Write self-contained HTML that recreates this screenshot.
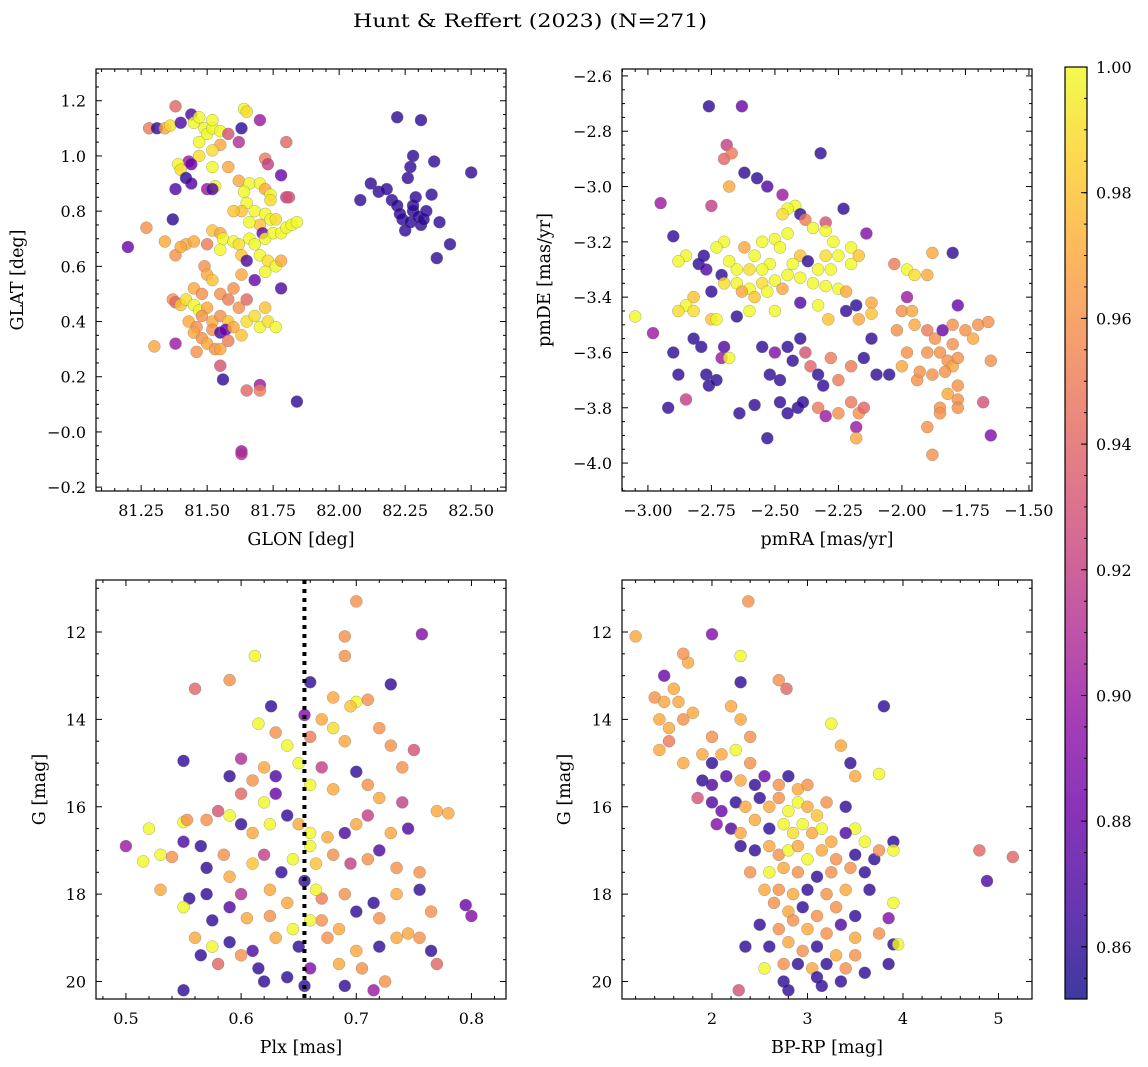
<!DOCTYPE html>
<html><head><meta charset="utf-8">
<style>
html,body{margin:0;padding:0;background:#fff;}
svg{display:block;font-family:"DejaVu Serif","Liberation Serif",serif;}
</style></head>
<body>
<svg id="fig" width="1148" height="1067" viewBox="0 0 1148 1067" xmlns="http://www.w3.org/2000/svg">
<defs>
<linearGradient id="plasmaGrad" x1="0" y1="1" x2="0" y2="0">
<stop offset="0" stop-color="#0d0887"/><stop offset="0.1" stop-color="#41049d"/><stop offset="0.2" stop-color="#6a00a8"/><stop offset="0.3" stop-color="#8f0da4"/><stop offset="0.4" stop-color="#b12a90"/><stop offset="0.5" stop-color="#cc4778"/><stop offset="0.6" stop-color="#e16462"/><stop offset="0.7" stop-color="#f2844b"/><stop offset="0.8" stop-color="#fca636"/><stop offset="0.9" stop-color="#fcce25"/><stop offset="1" stop-color="#f0f921"/>
</linearGradient>
</defs>
<text x="530" y="27" font-size="19" text-anchor="middle" textLength="354" lengthAdjust="spacingAndGlyphs">Hunt &amp; Reffert (2023) (N=271)</text>
</svg>
<script>
// ---- data ----
const glonGlat = [[81.28,1.10,0.95],[81.31,1.10,0.86],[81.34,1.10,0.97],[81.36,1.11,0.99],[81.38,1.18,0.94],[81.40,1.12,0.87],[81.44,1.15,0.87],[81.45,1.12,1.0],[81.47,1.14,1.0],[81.49,1.10,1.0],[81.50,1.08,1.0],[81.52,1.10,1.0],[81.47,1.05,1.0],[81.52,1.13,1.0],[81.55,1.09,1.0],[81.58,1.08,0.93],[81.55,1.04,0.97],[81.52,1.02,0.99],[81.47,1.0,0.99],[81.43,0.98,0.90],[81.44,0.97,0.88],[81.39,0.97,1.0],[81.40,0.95,0.99],[81.52,0.96,1.0],[81.58,0.96,0.97],[81.64,1.17,1.0],[81.65,1.16,0.99],[81.70,1.13,0.90],[81.63,1.10,0.86],[81.62,1.05,0.91],[81.72,0.99,0.95],[81.73,0.97,0.92],[81.80,1.05,0.94],[81.78,0.93,0.88],[81.42,0.92,0.86],[81.44,0.90,0.87],[81.38,0.88,0.87],[81.50,0.88,0.90],[81.53,0.89,1.0],[81.52,0.88,0.87],[81.62,0.91,0.97],[81.66,0.90,1.0],[81.70,0.90,1.0],[81.64,0.87,1.0],[81.72,0.88,0.97],[81.74,0.86,1.0],[81.74,0.84,0.99],[81.80,0.85,0.92],[81.81,0.85,0.93],[81.65,0.83,1.0],[81.68,0.80,1.0],[81.63,0.80,0.98],[81.60,0.80,0.98],[81.72,0.79,1.0],[81.74,0.77,1.0],[81.76,0.77,0.99],[81.70,0.75,0.98],[81.66,0.76,1.0],[81.37,0.77,0.86],[81.52,0.73,0.98],[81.55,0.72,0.97],[81.56,0.70,1.0],[81.60,0.69,1.0],[81.62,0.68,0.99],[81.66,0.70,1.0],[81.68,0.68,1.0],[81.71,0.72,0.88],[81.72,0.70,1.0],[81.75,0.72,1.0],[81.78,0.72,1.0],[81.80,0.74,1.0],[81.82,0.75,1.0],[81.84,0.76,1.0],[81.34,0.69,0.97],[81.38,0.64,0.96],[81.42,0.68,0.97],[81.40,0.67,0.97],[81.45,0.69,0.97],[81.50,0.68,0.95],[81.55,0.66,1.0],[81.63,0.64,0.98],[81.65,0.62,0.87],[81.70,0.64,1.0],[81.73,0.62,0.99],[81.76,0.60,1.0],[81.78,0.62,0.97],[81.72,0.58,1.0],[81.68,0.55,0.88],[81.78,0.52,0.87],[81.63,0.57,0.97],[81.60,0.52,0.96],[81.49,0.60,0.96],[81.50,0.57,0.97],[81.52,0.55,0.98],[81.45,0.52,0.97],[81.48,0.50,0.96],[81.55,0.50,0.96],[81.58,0.48,0.95],[81.62,0.45,0.96],[81.65,0.48,0.94],[81.37,0.48,0.96],[81.38,0.47,0.94],[81.40,0.46,0.98],[81.42,0.48,0.99],[81.45,0.46,1.0],[81.47,0.44,1.0],[81.50,0.45,0.97],[81.43,0.40,0.97],[81.46,0.38,0.96],[81.48,0.42,0.96],[81.52,0.40,0.97],[81.55,0.42,0.96],[81.58,0.40,0.98],[81.52,0.37,0.96],[81.55,0.36,0.87],[81.57,0.37,0.88],[81.60,0.38,0.97],[81.45,0.36,0.97],[81.48,0.34,0.96],[81.50,0.32,0.97],[81.53,0.30,0.96],[81.55,0.30,0.97],[81.46,0.29,0.96],[81.38,0.32,0.90],[81.30,0.31,0.97],[81.58,0.33,0.95],[81.63,0.35,0.98],[81.65,0.40,0.99],[81.70,0.38,1.0],[81.73,0.40,0.99],[81.76,0.38,1.0],[81.68,0.42,0.99],[81.72,0.45,0.98],[81.55,0.24,0.93],[81.56,0.19,0.86],[81.65,0.15,0.94],[81.70,0.17,0.90],[81.70,0.15,0.95],[81.84,0.11,0.86],[81.63,-0.07,0.90],[81.63,-0.08,0.91],[81.20,0.67,0.88],[81.27,0.74,0.96],[82.08,0.84,0.86],[82.12,0.90,0.86],[82.15,0.87,0.86],[82.18,0.88,0.86],[82.20,0.84,0.86],[82.22,0.82,0.86],[82.24,0.77,0.86],[82.25,0.73,0.86],[82.27,0.76,0.86],[82.28,0.80,0.86],[82.28,0.82,0.86],[82.29,0.85,0.86],[82.30,0.78,0.86],[82.31,0.75,0.86],[82.32,0.77,0.86],[82.33,0.80,0.86],[82.26,0.92,0.86],[82.27,0.96,0.86],[82.28,1.00,0.86],[82.22,1.14,0.86],[82.31,1.13,0.86],[82.36,0.98,0.86],[82.35,0.86,0.86],[82.38,0.76,0.86],[82.42,0.68,0.86],[82.37,0.63,0.86],[82.50,0.94,0.86],[82.23,0.79,0.86]];
const pmraPmde = [[-2.76,-2.71,0.86],[-2.63,-2.71,0.88],[-2.69,-2.85,0.92],[-2.70,-2.90,0.94],[-2.67,-2.88,0.95],[-2.32,-2.88,0.86],[-2.68,-3.0,0.97],[-2.95,-3.06,0.90],[-2.75,-3.07,0.92],[-2.62,-2.95,0.86],[-2.57,-2.97,0.86],[-2.53,-3.0,0.87],[-2.47,-3.03,0.90],[-2.42,-3.07,1.0],[-2.45,-3.08,1.0],[-2.47,-3.10,0.99],[-2.40,-3.10,0.86],[-2.38,-3.12,0.95],[-2.30,-3.13,0.93],[-2.23,-3.08,0.86],[-2.14,-3.17,0.89],[-2.35,-3.15,1.0],[-2.30,-3.16,1.0],[-2.27,-3.20,1.0],[-2.45,-3.17,1.0],[-2.50,-3.19,1.0],[-2.55,-3.20,1.0],[-2.48,-3.22,1.0],[-2.70,-3.20,1.0],[-2.73,-3.22,1.0],[-2.62,-3.22,0.97],[-2.58,-3.25,1.0],[-2.20,-3.22,1.0],[-2.25,-3.25,1.0],[-2.30,-3.25,0.99],[-2.40,-3.25,0.98],[-2.43,-3.28,1.0],[-2.37,-3.27,0.86],[-2.33,-3.30,1.0],[-2.28,-3.30,1.0],[-2.20,-3.28,1.0],[-2.17,-3.25,0.98],[-2.52,-3.28,1.0],[-2.55,-3.30,1.0],[-2.60,-3.30,0.99],[-2.65,-3.30,1.0],[-2.68,-3.27,1.0],[-2.78,-3.25,0.86],[-2.80,-3.28,0.86],[-2.85,-3.25,1.0],[-2.88,-3.27,1.0],[-2.90,-3.18,0.86],[-2.77,-3.30,0.87],[-2.71,-3.32,0.86],[-2.65,-3.35,1.0],[-2.60,-3.37,1.0],[-2.55,-3.35,0.99],[-2.50,-3.34,1.0],[-2.45,-3.32,1.0],[-2.40,-3.33,1.0],[-2.35,-3.35,1.0],[-2.30,-3.36,1.0],[-2.25,-3.37,1.0],[-2.22,-3.38,0.97],[-2.47,-3.37,0.97],[-2.53,-3.38,1.0],[-2.58,-3.40,0.98],[-2.63,-3.38,0.97],[-2.70,-3.35,0.99],[-2.75,-3.38,0.86],[-2.82,-3.40,0.98],[-2.85,-3.43,1.0],[-2.82,-3.45,0.99],[-2.88,-3.45,0.99],[-2.75,-3.48,0.98],[-2.73,-3.48,1.0],[-2.65,-3.47,0.86],[-2.60,-3.45,1.0],[-2.50,-3.45,1.0],[-2.40,-3.42,0.87],[-2.33,-3.43,1.0],[-2.29,-3.48,0.98],[-2.22,-3.45,0.86],[-2.18,-3.43,0.86],[-3.05,-3.47,1.0],[-2.98,-3.53,0.90],[-2.90,-3.60,0.86],[-2.88,-3.68,0.86],[-2.82,-3.55,0.86],[-2.79,-3.58,0.86],[-2.77,-3.68,0.86],[-2.76,-3.72,0.86],[-2.73,-3.70,0.86],[-2.71,-3.62,0.90],[-2.70,-3.58,0.87],[-2.68,-3.62,1.0],[-2.64,-3.82,0.86],[-2.55,-3.58,0.86],[-2.52,-3.68,0.86],[-2.50,-3.60,0.89],[-2.48,-3.70,0.86],[-2.45,-3.58,0.86],[-2.43,-3.63,0.86],[-2.40,-3.55,0.86],[-2.38,-3.60,0.93],[-2.36,-3.65,0.94],[-2.33,-3.68,0.86],[-2.31,-3.72,0.86],[-2.28,-3.62,0.95],[-2.25,-3.70,0.95],[-2.20,-3.65,0.95],[-2.15,-3.62,0.86],[-2.12,-3.55,0.86],[-2.10,-3.68,0.86],[-2.05,-3.68,0.86],[-2.48,-3.78,0.86],[-2.45,-3.82,0.86],[-2.41,-3.80,0.86],[-2.39,-3.78,0.86],[-2.33,-3.80,0.95],[-2.30,-3.83,0.90],[-2.25,-3.82,0.96],[-2.20,-3.78,0.95],[-2.17,-3.82,0.96],[-2.15,-3.80,0.94],[-2.18,-3.87,0.90],[-2.18,-3.91,0.97],[-2.53,-3.91,0.86],[-2.58,-3.79,0.86],[-2.85,-3.77,0.92],[-2.92,-3.80,0.86],[-2.17,-3.48,0.97],[-2.12,-3.42,0.97],[-2.12,-3.46,0.98],[-2.03,-3.28,0.95],[-1.98,-3.30,1.0],[-1.95,-3.32,0.99],[-1.90,-3.32,0.97],[-1.88,-3.24,0.97],[-1.80,-3.24,0.86],[-1.98,-3.40,0.90],[-2.00,-3.45,0.96],[-1.96,-3.45,0.97],[-2.02,-3.52,0.96],[-1.95,-3.50,0.97],[-1.90,-3.52,0.95],[-1.87,-3.55,0.96],[-1.84,-3.52,0.88],[-1.78,-3.43,0.88],[-1.80,-3.50,0.96],[-1.75,-3.52,0.96],[-1.70,-3.50,0.96],[-1.66,-3.49,0.96],[-1.72,-3.55,0.97],[-1.80,-3.57,0.96],[-1.85,-3.60,0.96],[-1.90,-3.60,0.96],[-1.82,-3.63,0.96],[-1.80,-3.65,0.97],[-1.78,-3.62,0.96],[-1.65,-3.63,0.96],[-1.98,-3.60,0.96],[-2.00,-3.65,0.97],[-1.94,-3.70,0.96],[-1.88,-3.68,0.96],[-1.93,-3.67,0.96],[-1.83,-3.67,0.96],[-1.78,-3.72,0.96],[-1.82,-3.75,0.97],[-1.78,-3.77,0.96],[-1.85,-3.80,0.96],[-1.85,-3.82,0.96],[-1.78,-3.80,0.96],[-1.90,-3.87,0.96],[-1.88,-3.97,0.96],[-1.68,-3.78,0.93],[-1.65,-3.90,0.89]];
const plxG = [[0.70,11.3,0.96],[0.757,12.05,0.89],[0.69,12.1,0.96],[0.612,12.55,1.0],[0.69,12.55,0.96],[0.66,13.15,0.86],[0.56,13.3,0.94],[0.59,13.1,0.96],[0.73,13.2,0.86],[0.626,13.7,0.86],[0.68,13.5,0.97],[0.70,13.6,1.0],[0.695,13.7,0.98],[0.71,13.55,0.96],[0.655,13.9,0.89],[0.615,14.1,1.0],[0.63,14.3,0.96],[0.67,14.0,0.97],[0.68,14.2,0.99],[0.66,14.4,0.95],[0.72,14.2,0.96],[0.75,14.7,0.93],[0.69,14.5,0.97],[0.73,14.6,0.96],[0.64,14.6,1.0],[0.60,14.9,0.91],[0.55,14.95,0.86],[0.62,15.1,0.97],[0.63,15.3,0.87],[0.65,15.0,1.0],[0.67,15.1,0.92],[0.70,15.2,0.86],[0.74,15.1,0.96],[0.61,15.4,0.96],[0.59,15.3,0.86],[0.66,15.5,1.0],[0.68,15.6,0.97],[0.71,15.5,0.96],[0.72,15.8,0.97],[0.74,15.9,0.92],[0.77,16.1,0.97],[0.78,16.15,0.97],[0.63,15.7,0.88],[0.62,15.9,1.0],[0.60,15.7,0.94],[0.58,16.1,0.93],[0.59,16.2,1.0],[0.57,16.3,0.96],[0.55,16.35,1.0],[0.553,16.3,0.96],[0.60,16.4,0.86],[0.61,16.6,0.97],[0.625,16.4,1.0],[0.64,16.2,0.86],[0.65,16.4,0.97],[0.66,16.6,1.0],[0.675,16.7,0.97],[0.69,16.6,0.87],[0.70,16.4,0.97],[0.71,16.2,0.92],[0.73,16.6,0.97],[0.745,16.5,0.87],[0.52,16.5,1.0],[0.50,16.9,0.90],[0.515,17.25,1.0],[0.53,17.1,1.0],[0.54,17.15,0.96],[0.55,16.8,0.87],[0.565,16.9,0.86],[0.57,17.4,0.86],[0.585,17.1,0.96],[0.59,17.6,0.97],[0.61,17.3,0.98],[0.62,17.1,0.92],[0.635,17.5,0.86],[0.645,17.2,1.0],[0.665,17.3,0.98],[0.68,17.1,0.96],[0.695,17.3,0.92],[0.71,17.2,0.96],[0.72,17.0,0.87],[0.735,17.4,0.96],[0.755,17.5,0.96],[0.53,17.9,0.97],[0.555,18.1,0.86],[0.57,18.0,0.86],[0.60,18.0,0.91],[0.625,17.9,0.97],[0.64,18.2,0.97],[0.67,18.1,0.95],[0.69,18.0,0.96],[0.715,18.2,0.86],[0.735,18.0,0.97],[0.755,17.9,0.86],[0.55,18.3,1.0],[0.575,18.6,0.86],[0.59,18.3,0.87],[0.605,18.55,0.97],[0.625,18.5,0.96],[0.645,18.8,1.0],[0.67,18.6,0.96],[0.685,18.8,0.97],[0.70,18.4,0.86],[0.72,18.55,0.96],[0.745,18.9,0.97],[0.765,18.4,0.96],[0.795,18.25,0.88],[0.80,18.5,0.89],[0.56,19.0,0.97],[0.575,19.2,1.0],[0.59,19.1,0.86],[0.61,19.3,0.87],[0.63,19.0,0.97],[0.65,19.2,0.86],[0.675,19.0,0.96],[0.70,19.3,0.97],[0.72,19.2,0.86],[0.735,19.0,0.97],[0.755,19.0,0.96],[0.765,19.3,0.86],[0.77,19.6,0.94],[0.565,19.4,0.86],[0.58,19.6,0.94],[0.60,19.4,0.96],[0.615,19.7,0.86],[0.64,19.9,0.86],[0.66,19.7,0.89],[0.685,19.6,0.97],[0.705,19.7,0.96],[0.725,20.0,0.96],[0.62,20.0,0.86],[0.655,20.1,0.86],[0.69,20.1,0.86],[0.715,20.2,0.90],[0.55,20.2,0.86],[0.66,16.9,1.0],[0.655,17.7,0.86],[0.66,18.6,1.0],[0.665,17.9,1.0]];
const bprpG = [[1.2,12.1,0.97],[2.0,12.05,0.89],[2.38,11.3,0.96],[2.3,12.55,1.0],[1.5,13.0,0.88],[1.6,13.3,0.97],[2.7,13.1,0.96],[2.78,13.3,0.94],[2.3,13.15,0.86],[1.4,13.5,0.96],[1.5,13.6,0.97],[1.65,13.6,0.97],[1.75,12.7,0.97],[1.7,12.5,0.96],[3.8,13.7,0.86],[1.45,14.0,0.97],[1.55,14.2,0.97],[1.7,14.0,0.96],[1.8,13.85,0.97],[2.2,13.7,0.97],[2.3,14.0,0.97],[2.4,14.4,0.96],[2.0,14.4,0.96],[3.25,14.1,1.0],[3.35,14.6,0.97],[1.45,14.7,0.97],[1.55,14.5,0.95],[1.7,15.0,0.97],[1.9,14.8,0.97],[2.0,15.0,0.86],[2.1,14.8,0.97],[2.25,14.7,1.0],[2.4,15.0,0.96],[3.45,15.0,0.86],[3.5,15.3,0.97],[3.75,15.25,1.0],[1.9,15.4,0.86],[2.0,15.5,0.87],[2.15,15.3,0.87],[2.3,15.4,0.97],[2.45,15.5,0.86],[2.55,15.3,0.88],[2.7,15.5,0.96],[2.8,15.3,0.86],[2.9,15.6,0.97],[3.0,15.5,0.96],[1.85,15.8,0.93],[2.0,15.9,0.87],[2.1,16.1,0.88],[2.25,15.9,0.86],[2.35,16.0,0.97],[2.5,15.8,0.86],[2.6,16.0,0.97],[2.7,15.8,0.96],[2.8,16.1,1.0],[2.9,15.9,1.0],[3.0,16.0,0.97],[3.1,16.2,0.98],[3.2,15.9,0.96],[3.4,16.0,0.86],[3.5,16.5,1.0],[2.05,16.4,0.89],[2.2,16.5,0.87],[2.3,16.6,0.97],[2.45,16.3,0.97],[2.6,16.5,0.86],[2.75,16.4,1.0],[2.85,16.6,0.99],[2.95,16.4,1.0],[3.05,16.6,0.97],[3.15,16.5,1.0],[3.25,16.8,0.97],[3.4,16.6,0.87],[3.6,16.8,1.0],[3.9,16.8,0.86],[2.3,16.9,0.86],[2.45,17.0,0.86],[2.6,16.9,0.97],[2.7,17.1,0.96],[2.8,17.0,1.0],[2.9,16.9,0.97],[3.0,17.2,1.0],[3.15,17.0,0.97],[3.3,17.2,0.96],[3.5,17.1,0.86],[3.7,17.2,0.86],[3.75,17.0,0.96],[3.9,17.0,1.0],[4.8,17.0,0.94],[5.15,17.15,0.94],[2.4,17.5,0.96],[2.6,17.5,1.0],[2.75,17.4,0.97],[2.9,17.5,0.96],[3.1,17.6,0.86],[3.25,17.5,0.96],[3.45,17.4,0.96],[3.6,17.5,0.86],[2.55,17.9,0.97],[2.7,17.9,0.96],[2.85,18.0,0.97],[3.0,17.9,0.86],[3.2,18.0,0.96],[3.4,17.9,0.97],[3.65,17.9,0.86],[3.9,18.2,1.0],[4.88,17.7,0.87],[2.65,18.2,0.96],[2.8,18.4,0.97],[2.95,18.3,0.86],[3.1,18.5,0.96],[3.3,18.3,0.96],[3.5,18.5,0.86],[3.85,18.55,0.89],[2.5,18.7,0.86],[2.7,18.8,0.96],[2.85,18.6,0.96],[3.0,18.8,0.97],[3.2,18.9,0.96],[3.35,18.7,0.87],[3.5,19.0,0.97],[3.75,18.9,0.96],[2.35,19.2,0.86],[2.6,19.2,0.86],[2.8,19.1,0.97],[2.95,19.3,0.96],[3.1,19.2,0.86],[3.3,19.4,0.97],[3.5,19.4,0.96],[3.9,19.15,0.86],[3.95,19.15,1.0],[2.55,19.7,1.0],[2.75,19.6,0.96],[2.9,19.6,0.86],[3.05,19.7,0.97],[3.2,19.6,0.86],[3.4,19.7,0.96],[3.6,19.8,0.86],[3.85,19.6,0.86],[2.28,20.2,0.93],[2.75,20.0,0.86],[2.8,20.2,0.86],[3.1,19.9,0.86],[3.15,20.1,0.86],[3.35,20.0,0.86]];
const colorTicks = [0.86,0.88,0.90,0.92,0.94,0.96,0.98,1.00];
const cMin = 0.8517, cMax = 1.0;
const plxLine = 0.655;

// ---- helpers ----
const NS = "http://www.w3.org/2000/svg";
const svg = document.getElementById('fig');
function mk(tag, attrs, parent){ const e=document.createElementNS(NS,tag); for(const k in attrs) e.setAttribute(k,attrs[k]); (parent||svg).appendChild(e); return e; }
const stops=[[0,13,8,135],[0.1,65,4,157],[0.2,106,0,168],[0.3,143,13,164],[0.4,177,42,144],[0.5,204,71,120],[0.6,225,100,98],[0.7,242,132,75],[0.8,252,166,54],[0.9,252,206,37],[1,240,249,33]];
function plasma(c){ let t=(c-cMin)/(cMax-cMin); t=Math.max(0,Math.min(1,t));
  for(let i=0;i<stops.length-1;i++){ const a=stops[i],b=stops[i+1]; if(t<=b[0]){ const f=(t-a[0])/(b[0]-a[0]); return `rgb(${Math.round(a[1]+f*(b[1]-a[1]))},${Math.round(a[2]+f*(b[2]-a[2]))},${Math.round(a[3]+f*(b[3]-a[3]))})`; } }
  return 'rgb(240,249,33)'; }
const TICK_FS = 16, LABEL_FS = 17.5;

function panel(cfg){
  const {name,L,R,T,B,xmin,xmax,ymin,ymax,invertY,xMaj,xMin,yMaj,yMin,xFmt,yFmt,xLabel,yLabel,yLabelX,data} = cfg;
  const g = mk('g',{});
  
  
  const sx = v => L + (v - xmin)/(xmax - xmin)*(R-L);
  const sy = v => invertY ? T + (v - ymin)/(ymax - ymin)*(B-T) : B - (v - ymin)/(ymax - ymin)*(B-T);
  const clip = mk('clipPath',{id:'clip-'+name},g); mk('rect',{x:L,y:T,width:R-L,height:B-T},clip);
  const pts = mk('g',{'clip-path':`url(#clip-${name})`},g);
  data.forEach((d,i)=>{
    const c = mk('circle',{cx:sx(d[0]).toFixed(1),cy:sy(d[1]).toFixed(1),r:6.0,fill:plasma(d[2]),'fill-opacity':0.8,stroke:'#777','stroke-width':0.4,'stroke-opacity':0.8},pts);
    
    
  });
  if(cfg.vline!==undefined){
    const ln = mk('line',{x1:sx(cfg.vline),x2:sx(cfg.vline),y1:T,y2:B,stroke:'#000','stroke-width':4,'stroke-dasharray':'4 5'},g);
    
    
  }
  mk('rect',{x:L,y:T,width:R-L,height:B-T,fill:'none',stroke:'#000','stroke-width':1.2},g);
  const eps=1e-9;
  for(let v=Math.ceil(xmin/xMin)*xMin; v<=xmax+eps; v+=xMin){
    const isMaj = Math.abs(v/xMaj - Math.round(v/xMaj))<1e-6; const len=isMaj?6:3; const x=sx(v);
    mk('line',{x1:x,x2:x,y1:B,y2:B-len,stroke:'#000','stroke-width':1},g);
    mk('line',{x1:x,x2:x,y1:T,y2:T+len,stroke:'#000','stroke-width':1},g);
    if(isMaj){ const t=mk('text',{x:x,y:B+25,'font-size':TICK_FS,'text-anchor':'middle'},g); t.textContent=xFmt(v);
      
       }
  }
  for(let v=Math.ceil(ymin/yMin)*yMin; v<=ymax+eps; v+=yMin){
    const isMaj = Math.abs(v/yMaj - Math.round(v/yMaj))<1e-6; const len=isMaj?6:3; const y=sy(v);
    mk('line',{x1:L,x2:L+len,y1:y,y2:y,stroke:'#000','stroke-width':1},g);
    mk('line',{x1:R,x2:R-len,y1:y,y2:y,stroke:'#000','stroke-width':1},g);
    if(isMaj){ const t=mk('text',{x:L-10,y:y+6,'font-size':TICK_FS,'text-anchor':'end'},g); t.textContent=yFmt(v).replace('-','\u2212');
      
       }
  }
  const xl = mk('text',{x:(L+R)/2,y:B+54,'font-size':LABEL_FS,'text-anchor':'middle'},g); xl.textContent=xLabel;
  
  
  const yl = mk('text',{x:yLabelX,y:(T+B)/2,'font-size':LABEL_FS,'text-anchor':'middle',transform:`rotate(-90 ${yLabelX} ${(T+B)/2})`},g); yl.textContent=yLabel;
  
  
}
const f2 = v => v.toFixed(2).replace('-','\u2212');
const f1 = v => v.toFixed(1);
const f0 = v => v.toFixed(0);
panel({name:'glon-glat-panel',L:96,R:506,T:69,B:491,xmin:81.079,xmax:82.632,ymin:-0.214,ymax:1.315,xMaj:0.25,xMin:0.05,yMaj:0.2,yMin:0.05,xFmt:f2,yFmt:f1,xLabel:'GLON [deg]',yLabel:'GLAT [deg]',yLabelX:23,data:glonGlat});
panel({name:'pm-panel',L:622,R:1032,T:69,B:491,xmin:-3.102,xmax:-1.488,ymin:-4.101,ymax:-2.575,xMaj:0.25,xMin:0.05,yMaj:0.2,yMin:0.05,xFmt:f2,yFmt:f1,xLabel:'pmRA [mas/yr]',yLabel:'pmDE [mas/yr]',yLabelX:550,data:pmraPmde});
panel({name:'plx-g-panel',L:96,R:506,T:580,B:999,xmin:0.474,xmax:0.830,ymin:10.81,ymax:20.4,invertY:true,xMaj:0.1,xMin:0.02,yMaj:2,yMin:0.5,xFmt:f1,yFmt:f0,xLabel:'Plx [mas]',yLabel:'G [mag]',yLabelX:45,data:plxG,vline:plxLine});
panel({name:'cmd-panel',L:622,R:1032,T:580,B:999,xmin:1.058,xmax:5.351,ymin:10.81,ymax:20.4,invertY:true,xMaj:1,xMin:0.2,yMaj:2,yMin:0.5,xFmt:f0,yFmt:f0,xLabel:'BP-RP [mag]',yLabel:'G [mag]',yLabelX:570,data:bprpG});

// colorbar
const cb = mk('g',{});


const cT=67,cB=999,cL=1065,cR=1087;
mk('rect',{x:cL,y:cT,width:cR-cL,height:cB-cT,fill:'url(#plasmaGrad)','fill-opacity':0.8},cb);
mk('rect',{x:cL,y:cT,width:cR-cL,height:cB-cT,fill:'none',stroke:'#000','stroke-width':1.2},cb);
const cy = v => cB - (v-cMin)/(cMax-cMin)*(cB-cT);
for(let v=0.855; v<=1.0001; v+=0.005){ const y=cy(v); mk('line',{x1:cR,x2:cR-3,y1:y,y2:y,stroke:'#000','stroke-width':1},cb); }
colorTicks.forEach(v=>{ const y=cy(v);
  mk('line',{x1:cR,x2:cR-6,y1:y,y2:y,stroke:'#000','stroke-width':1},cb);
  const t=mk('text',{x:cR+9,y:y+6,'font-size':TICK_FS},cb); t.textContent=v.toFixed(2);
  
  
});
</script>
</body></html>
